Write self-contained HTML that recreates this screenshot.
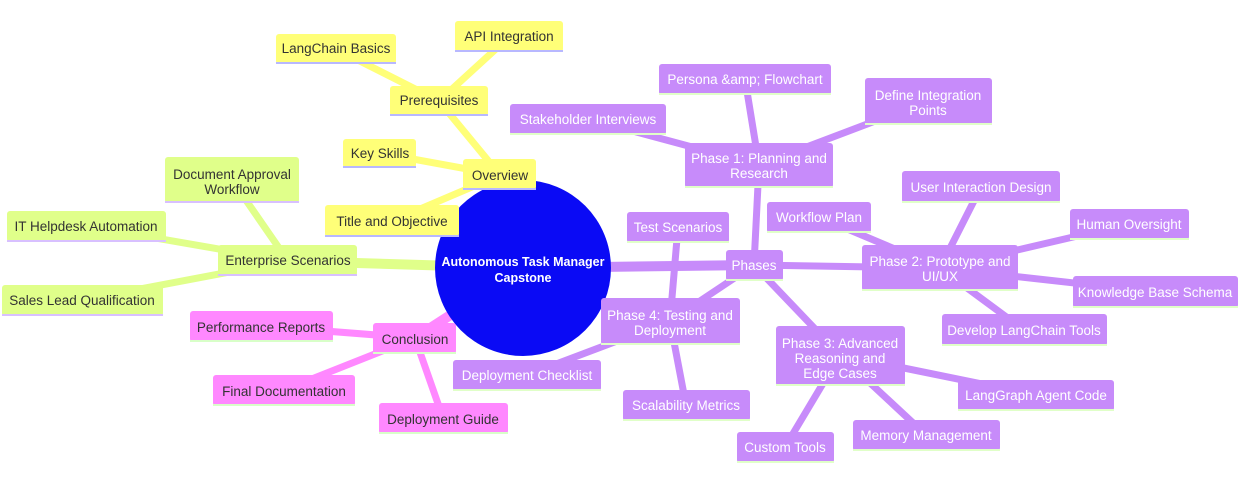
<!DOCTYPE html>
<html><head><meta charset="utf-8"><style>
html,body{margin:0;padding:0;background:#fff;}
svg{display:block;font-family:"Liberation Sans","DejaVu Sans",sans-serif;}
svg text{font-size:13.5px;}
svg text.c{font-size:12.5px;}
</style></head><body>
<svg width="1257" height="489" viewBox="0 0 1257 489" xmlns="http://www.w3.org/2000/svg">
<g stroke-linecap="round">
<g stroke="#ffff78">
<line x1="523" y1="268" x2="500" y2="175" stroke-width="10"/>
<line x1="500" y1="175" x2="439" y2="101" stroke-width="7"/>
<line x1="439" y1="101" x2="336" y2="49" stroke-width="7"/>
<line x1="439" y1="101" x2="509" y2="37" stroke-width="7"/>
<line x1="500" y1="175" x2="380" y2="153" stroke-width="7"/>
<line x1="500" y1="175" x2="392" y2="221" stroke-width="7"/>
</g>
<g stroke="#e0ff8a">
<line x1="523" y1="268" x2="288" y2="261" stroke-width="10"/>
<line x1="288" y1="261" x2="232" y2="180" stroke-width="7"/>
<line x1="288" y1="261" x2="86" y2="226" stroke-width="7"/>
<line x1="288" y1="261" x2="82" y2="300" stroke-width="7"/>
</g>
<g stroke="#ff88ff">
<line x1="523" y1="268" x2="415" y2="338" stroke-width="10"/>
<line x1="415" y1="338" x2="261" y2="326" stroke-width="7"/>
<line x1="415" y1="338" x2="284" y2="390" stroke-width="7"/>
<line x1="415" y1="338" x2="443" y2="418" stroke-width="7"/>
</g>
<g stroke="#c78bfa">
<line x1="523" y1="268" x2="754" y2="265" stroke-width="10"/>
<line x1="754" y1="265" x2="759" y2="165" stroke-width="7"/>
<line x1="759" y1="165" x2="745" y2="79" stroke-width="7"/>
<line x1="759" y1="165" x2="588" y2="119" stroke-width="7"/>
<line x1="759" y1="165" x2="928" y2="101" stroke-width="7"/>
<line x1="754" y1="265" x2="940" y2="268" stroke-width="7"/>
<line x1="940" y1="268" x2="981" y2="187" stroke-width="7"/>
<line x1="940" y1="268" x2="819" y2="217" stroke-width="7"/>
<line x1="940" y1="268" x2="1129" y2="224" stroke-width="7"/>
<line x1="940" y1="268" x2="1155" y2="292" stroke-width="7"/>
<line x1="940" y1="268" x2="1024" y2="330" stroke-width="7"/>
<line x1="754" y1="265" x2="840" y2="355" stroke-width="7"/>
<line x1="840" y1="355" x2="1036" y2="395" stroke-width="7"/>
<line x1="840" y1="355" x2="926" y2="435" stroke-width="7"/>
<line x1="840" y1="355" x2="785" y2="447" stroke-width="7"/>
<line x1="754" y1="265" x2="670" y2="321" stroke-width="7"/>
<line x1="670" y1="321" x2="678" y2="227" stroke-width="7"/>
<line x1="670" y1="321" x2="527" y2="375" stroke-width="7"/>
<line x1="670" y1="321" x2="686" y2="405" stroke-width="7"/>
</g>
</g>
<circle cx="523" cy="268" r="88" fill="#0a0af5"/>
<text class="c" x="523" y="266" text-anchor="middle" fill="#fff" font-weight="bold">Autonomous Task Manager</text>
<text class="c" x="523" y="282" text-anchor="middle" fill="#fff" font-weight="bold">Capstone</text>

<g fill="#ffff78">
<rect x="276" y="34" width="120" height="30" rx="3"/><rect x="455" y="21" width="108" height="31" rx="3"/>
<rect x="390" y="86" width="98" height="30" rx="3"/><rect x="343" y="139" width="73" height="29" rx="3"/>
<rect x="463" y="159" width="73" height="31" rx="3"/><rect x="325" y="205" width="134" height="32" rx="3"/>
</g>
<g fill="#b8b8ff">
<rect x="276" y="62" width="120" height="2"/><rect x="455" y="50" width="108" height="2"/>
<rect x="390" y="114" width="98" height="2"/><rect x="343" y="166" width="73" height="2"/>
<rect x="463" y="188" width="73" height="2"/><rect x="325" y="235" width="134" height="2"/>
</g>
<g fill="#333" text-anchor="middle">
<text x="336" y="53">LangChain Basics</text><text x="509" y="41">API Integration</text>
<text x="439" y="105">Prerequisites</text><text x="380" y="158">Key Skills</text>
<text x="500" y="180">Overview</text><text x="392" y="226">Title and Objective</text>
</g>
<g fill="#e0ff8a">
<rect x="165" y="157" width="134" height="46" rx="3"/><rect x="7" y="211" width="159" height="31" rx="3"/>
<rect x="218" y="245" width="139" height="31" rx="3"/><rect x="2" y="285" width="161" height="31" rx="3"/>
</g>
<g fill="#d8c0ff">
<rect x="165" y="201" width="134" height="2"/><rect x="7" y="240" width="159" height="2"/>
<rect x="218" y="274" width="139" height="2"/><rect x="2" y="314" width="161" height="2"/>
</g>
<g fill="#333" text-anchor="middle">
<text x="232" y="179">Document Approval</text><text x="232" y="194">Workflow</text>
<text x="86" y="231">IT Helpdesk Automation</text><text x="288" y="265">Enterprise Scenarios</text>
<text x="82" y="305">Sales Lead Qualification</text>
</g>
<g fill="#ff88ff">
<rect x="190" y="311" width="143" height="31" rx="3"/><rect x="373" y="323" width="83" height="31" rx="3"/>
<rect x="213" y="375" width="142" height="31" rx="3"/><rect x="379" y="403" width="129" height="31" rx="3"/>
</g>
<g fill="#d8ffc8">
<rect x="190" y="340" width="143" height="2"/><rect x="373" y="352" width="83" height="2"/>
<rect x="213" y="404" width="142" height="2"/><rect x="379" y="432" width="129" height="2"/>
</g>
<g fill="#333" text-anchor="middle">
<text x="261" y="332">Performance Reports</text><text x="415" y="344">Conclusion</text>
<text x="284" y="396">Final Documentation</text><text x="443" y="424">Deployment Guide</text>
</g>
<g fill="#c78bfa">
<rect x="659" y="64" width="172" height="31" rx="3"/><rect x="865" y="78" width="127" height="47" rx="3"/>
<rect x="510" y="104" width="156" height="31" rx="3"/><rect x="685" y="143" width="148" height="45" rx="3"/>
<rect x="902" y="171" width="158" height="32" rx="3"/><rect x="767" y="202" width="104" height="31" rx="3"/>
<rect x="1070" y="209" width="119" height="31" rx="3"/><rect x="627" y="212" width="102" height="31" rx="3"/>
<rect x="726" y="250" width="57" height="31" rx="3"/><rect x="862" y="245" width="156" height="46" rx="3"/>
<rect x="1073" y="276" width="165" height="32" rx="3"/><rect x="601" y="298" width="139" height="47" rx="3"/>
<rect x="942" y="314" width="165" height="32" rx="3"/><rect x="776" y="326" width="129" height="60" rx="3"/>
<rect x="453" y="360" width="148" height="31" rx="3"/><rect x="958" y="380" width="156" height="31" rx="3"/>
<rect x="623" y="390" width="127" height="31" rx="3"/><rect x="853" y="420" width="147" height="31" rx="3"/>
<rect x="737" y="432" width="97" height="31" rx="3"/>
</g>
<g fill="#e0ffc8">
<rect x="659" y="93" width="172" height="2"/><rect x="865" y="123" width="127" height="2"/>
<rect x="510" y="133" width="156" height="2"/><rect x="685" y="186" width="148" height="2"/>
<rect x="902" y="201" width="158" height="2"/><rect x="767" y="231" width="104" height="2"/>
<rect x="1070" y="238" width="119" height="2"/><rect x="627" y="241" width="102" height="2"/>
<rect x="726" y="279" width="57" height="2"/><rect x="862" y="289" width="156" height="2"/>
<rect x="1073" y="306" width="165" height="2"/><rect x="601" y="343" width="139" height="2"/>
<rect x="942" y="344" width="165" height="2"/><rect x="776" y="384" width="129" height="2"/>
<rect x="453" y="389" width="148" height="2"/><rect x="958" y="409" width="156" height="2"/>
<rect x="623" y="419" width="127" height="2"/><rect x="853" y="449" width="147" height="2"/>
<rect x="737" y="461" width="97" height="2"/>
</g>
<g fill="#fff" text-anchor="middle">
<text x="745" y="84">Persona &amp;amp; Flowchart</text>
<text x="928" y="100">Define Integration</text><text x="928" y="115">Points</text>
<text x="588" y="124">Stakeholder Interviews</text>
<text x="759" y="163">Phase 1: Planning and</text><text x="759" y="178">Research</text>
<text x="981" y="192">User Interaction Design</text><text x="819" y="222">Workflow Plan</text>
<text x="1129" y="229">Human Oversight</text><text x="678" y="232">Test Scenarios</text>
<text x="754" y="270">Phases</text>
<text x="940" y="266">Phase 2: Prototype and</text><text x="940" y="281">UI/UX</text>
<text x="1155" y="297">Knowledge Base Schema</text>
<text x="670" y="320">Phase 4: Testing and</text><text x="670" y="335">Deployment</text>
<text x="1024" y="335">Develop LangChain Tools</text>
<text x="840" y="348">Phase 3: Advanced</text><text x="840" y="363">Reasoning and</text><text x="840" y="378">Edge Cases</text>
<text x="527" y="380">Deployment Checklist</text><text x="1036" y="400">LangGraph Agent Code</text>
<text x="686" y="410">Scalability Metrics</text><text x="926" y="440">Memory Management</text>
<text x="785" y="452">Custom Tools</text>
</g>
</svg>
</body></html>
